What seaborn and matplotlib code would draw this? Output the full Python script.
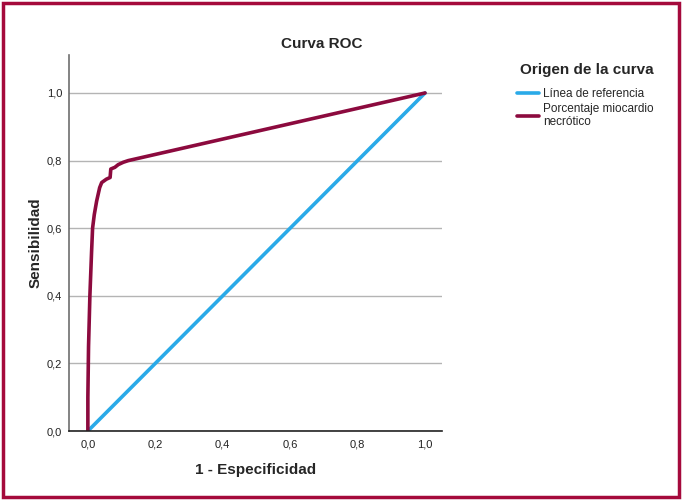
import matplotlib
matplotlib.use("Agg")
import matplotlib.pyplot as plt
import seaborn as sns
import pandas as pd
from matplotlib.patches import Rectangle
from matplotlib.ticker import FuncFormatter

# ---- data ----
ref_fpr = [0.0, 1.0]
ref_tpr = [0.0, 1.0]
roc_fpr = [0.0, 0.0, 0.002, 0.006, 0.011, 0.014, 0.019, 0.026, 0.035, 0.041,
           0.055, 0.066, 0.068, 0.075, 0.080, 0.090, 0.105, 0.120, 1.0]
roc_tpr = [0.0, 0.10, 0.25, 0.40, 0.53, 0.60, 0.64, 0.68, 0.72, 0.735,
           0.745, 0.75, 0.775, 0.778, 0.78, 0.788, 0.795, 0.80, 1.0]
series_names = ["Línea de referencia", "Porcentaje miocardio\nnecrótico"]
series_colors = ["#2AAAE8", "#8C0A3E"]
ticks = [0.0, 0.2, 0.4, 0.6, 0.8, 1.0]

df = pd.DataFrame({
    "fpr": ref_fpr + roc_fpr,
    "tpr": ref_tpr + roc_tpr,
    "serie": [series_names[0]] * len(ref_fpr) + [series_names[1]] * len(roc_fpr),
})

sns.set_style("white")
plt.rcParams["font.family"] = ["Liberation Sans", "DejaVu Sans"]

fig = plt.figure(figsize=(6.83, 5.01), dpi=100)
ax = fig.add_axes([0.101, 0.1397, 0.546, 0.7503])

sns.lineplot(data=df, x="fpr", y="tpr", hue="serie", palette=series_colors,
             hue_order=series_names, sort=False, estimator=None, units="serie",
             linewidth=2.6, ax=ax, legend=True)

ax.set_xlim(-0.056, 1.05)
ax.set_ylim(0, 1.112)
ax.set_xticks(ticks)
ax.set_yticks(ticks)
fmt = FuncFormatter(lambda v, p: f"{v:.1f}".replace(".", ","))
ax.xaxis.set_major_formatter(fmt)
ax.yaxis.set_major_formatter(fmt)
ax.tick_params(axis="both", length=0, labelsize=8, colors="#222222")
ax.tick_params(axis="x", pad=6)
ax.tick_params(axis="y", pad=5)
ax.yaxis.grid(True, color="#B4B4B4", linewidth=1)
ax.xaxis.grid(False)
ax.set_axisbelow(True)
for s in ["top", "right"]:
    ax.spines[s].set_visible(False)
ax.spines["left"].set_color("#6E6E6E")
ax.spines["bottom"].set_color("#222222")
ax.spines["left"].set_linewidth(1.2)
ax.spines["bottom"].set_linewidth(1.2)

ax.set_xlabel("1 - Especificidad", fontsize=11, fontweight="bold", labelpad=10)
ax.set_ylabel("Sensibilidad", fontsize=11, fontweight="bold", labelpad=3)
fig.text(322 / 683, 1 - 44 / 501, "Curva ROC", fontsize=11, fontweight="bold",
         ha="center", va="center")

leg = ax.get_legend()
handles = leg.legend_handles
leg.remove()
fig.text(587 / 683, 1 - 70 / 501, "Origen de la curva", fontsize=11,
         fontweight="bold", ha="center", va="center")
fig.legend(handles, series_names, loc="upper left", bbox_to_anchor=(0.757, 0.824),
           frameon=False, fontsize=8.5, handlelength=1.9, handletextpad=0.3,
           labelspacing=0.2, borderaxespad=0, borderpad=0)

fig.patches.append(Rectangle((0.004, 0.007), 0.99, 0.987, transform=fig.transFigure,
                             fill=False, edgecolor="#A50A3C", linewidth=2.5))

fig.savefig("out.png", dpi=100)
